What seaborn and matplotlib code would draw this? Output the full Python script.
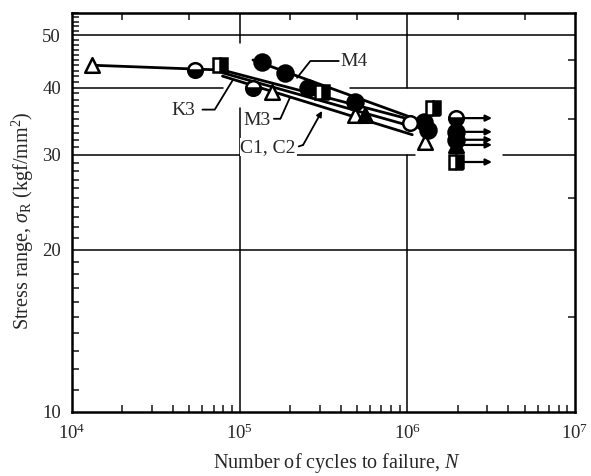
import numpy as np
import pandas as pd
import seaborn as sns
import matplotlib
matplotlib.use("Agg")
import matplotlib.pyplot as plt
from matplotlib.ticker import FixedLocator, NullFormatter, NullLocator

# ---- S-N test results (cycles to failure N, stress range in kgf/mm^2) ----
open_tri_N = [1.32e4, 1.56e5, 4.9e5, 1.28e6]
open_tri_S = [44.0, 39.3, 35.6, 31.7]

filled_tri_N = [5.6e5, 1.94e6]
filled_tri_S = [35.6, 31.3]

filled_circ_N = [1.36e5, 1.87e5, 2.57e5, 4.9e5, 1.25e6, 1.33e6, 1.94e6, 1.94e6]
filled_circ_S = [44.6, 42.6, 39.9, 37.6, 34.5, 33.4, 33.1, 32.0]

half_circ_N = [5.4e4, 1.2e5, 1.94e6]
half_circ_S = [43.1, 39.9, 35.1]

open_circ_N = [1.04e6]
open_circ_S = [34.4]

half_sq_N = [7.6e4, 3.1e5, 1.43e6, 1.94e6]
half_sq_S = [44.1, 39.3, 36.6, 29.1]

# run-outs (unbroken specimens)
runout_N_start = 2.05e6
runout_N_end = 3.2e6
runout_S = [35.1, 33.1, 32.0, 31.3, 29.1]

# ---- fitted S-N curves ----
k3_N = [1.32e4, 7.9e4, 1.2e6]
k3_S = [44.0, 43.1, 34.5]
m3_N = [7.9e4, 1.13e6]
m3_S = [42.6, 33.7]
c12_N = [7.9e4, 1.07e6]
c12_S = [42.0, 32.7]
m4_N = [1.2e5, 1.2e6]
m4_S = [45.0, 34.7]

x_tick_values = [1e4, 1e5, 1e6, 1e7]
x_tick_labels = [r"10$^4$", r"10$^5$", r"10$^6$", r"10$^7$"]
y_tick_values = [10, 20, 30, 40, 50]
y_tick_labels = ["10", "20", "30", "40", "50"]

sns.set_style("white")
plt.rcParams["font.family"] = ["Liberation Serif", "DejaVu Serif"]
plt.rcParams["mathtext.fontset"] = "custom"
plt.rcParams["mathtext.rm"] = "Liberation Serif"
plt.rcParams["mathtext.it"] = "Liberation Serif:italic"
plt.rcParams["mathtext.bf"] = "Liberation Serif:bold"

fig = plt.figure(figsize=(5.91, 4.76), dpi=100)
ax = fig.add_axes([72 / 591, 1 - 412 / 476, 503 / 591, 399 / 476])
ax.set_xscale("log")
ax.set_yscale("log")
ax.set_xlim(1e4, 1e7)
ax.set_ylim(10, 55)

# grid lines, interrupted where the labels and data band sit
gkw = dict(color="black", lw=1.1, zorder=1)
ax.axhline(50, 0, 1, **gkw)
ax.axhline(20, 0, 1, **gkw)
ax.axhline(40, 0, 0.30, **gkw)
ax.axhline(40, 0.553, 1, **gkw)
ax.axhline(30, 0, 0.334, **gkw)
ax.axhline(30, 0.447, 0.682, **gkw)
ax.axhline(30, 0.857, 1, **gkw)
ax.axvline(1e5, 0, 0.762, **gkw)
ax.axvline(1e5, 0.925, 1, **gkw)
ax.axvline(1e6, 0, 0.644, **gkw)
ax.axvline(1e6, 0.812, 1, **gkw)

# S-N curves
for n, s in [(k3_N, k3_S), (m3_N, m3_S), (c12_N, c12_S), (m4_N, m4_S)]:
    sns.lineplot(x=n, y=s, ax=ax, color="black", lw=2.0, sort=False,
                 estimator=None, zorder=3)

# run-out arrows
for s in runout_S:
    ax.annotate("", xy=(runout_N_end, s), xytext=(runout_N_start, s),
                arrowprops=dict(arrowstyle="-|>", color="black", lw=1.6,
                                mutation_scale=9, shrinkA=0, shrinkB=0),
                zorder=3)

ms = 10.5
mkw = dict(linestyle="none", markersize=ms, markeredgecolor="black",
           markeredgewidth=1.8, zorder=5)
sns.scatterplot(x=open_tri_N, y=open_tri_S, ax=ax, marker="^", s=ms**2,
                facecolor="white", edgecolor="black", linewidth=1.8, zorder=5)
sns.scatterplot(x=filled_tri_N, y=filled_tri_S, ax=ax, marker="^", s=ms**2,
                color="black", edgecolor="black", linewidth=1.8, zorder=5)
sns.scatterplot(x=filled_circ_N, y=filled_circ_S, ax=ax, marker="o", s=(ms + 1)**2,
                color="black", edgecolor="black", linewidth=1.8, zorder=5)
sns.scatterplot(x=open_circ_N, y=open_circ_S, ax=ax, marker="o", s=ms**2,
                facecolor="white", edgecolor="black", linewidth=1.8, zorder=5)
ax.plot(half_circ_N, half_circ_S, marker="o", fillstyle="bottom",
        markerfacecolor="black", markerfacecoloralt="white", **mkw)
ax.plot(half_sq_N, half_sq_S, marker="s", fillstyle="right",
        markerfacecolor="black", markerfacecoloralt="white", **mkw)

# curve labels with leader lines
lbl = dict(fontsize=14, ha="center", va="center", zorder=6,
           bbox=dict(facecolor="white", edgecolor="none", pad=0.5))
lkw = dict(color="black", lw=1.3, zorder=4)
ax.text(4.6e4, 36.3, "K3", **lbl)
ax.plot([6.0e4, 7.1e4, 9.1e4], [36.4, 36.4, 41.3], **lkw)
ax.text(1.27e5, 34.8, "M3", **lbl)
ax.plot([1.6e5, 1.75e5, 2.0e5], [35.0, 35.0, 38.4], **lkw)
ax.text(1.48e5, 31.0, "C1, C2", **lbl)
ax.annotate("", xy=(3.1e5, 36.2), xytext=(2.39e5, 31.3),
            arrowprops=dict(arrowstyle="-|>", color="black", lw=1.3,
                            mutation_scale=8, shrinkA=0, shrinkB=0), zorder=4)
ax.plot([2.25e5, 2.39e5], [31.1, 31.3], **lkw)
ax.text(4.0e5, 44.8, "M4", fontsize=14, ha="left", va="center", zorder=6)
ax.plot([3.9e5, 2.64e5, 2.2e5], [44.8, 44.8, 41.7], **lkw)

# axes, ticks and labels
for sp in ax.spines.values():
    sp.set_color("black")
    sp.set_linewidth(1.8)
ax.xaxis.set_major_locator(FixedLocator(x_tick_values))
ax.set_xticklabels(x_tick_labels)
ax.xaxis.set_minor_locator(FixedLocator(
    [m * 10**e for e in range(4, 7) for m in range(2, 10)]))
ax.xaxis.set_minor_formatter(NullFormatter())
ax.yaxis.set_major_locator(FixedLocator(y_tick_values))
ax.set_yticklabels(y_tick_labels)
ax.yaxis.set_minor_locator(FixedLocator(
    [v for v in range(11, 56) if v not in y_tick_values]))
ax.yaxis.set_minor_formatter(NullFormatter())
ax.tick_params(which="major", length=0, labelsize=13.5, pad=8)
ax.tick_params(which="minor", direction="in", length=5, width=1.2,
               bottom=True, left=True, top=False, right=False)

top = ax.secondary_xaxis("top")
top.xaxis.set_major_locator(FixedLocator(
    [m * 10**e for e in range(4, 7) for m in (2, 5)]))
top.xaxis.set_minor_locator(NullLocator())
top.tick_params(direction="in", length=5, width=1.2, labeltop=False)
right = ax.secondary_yaxis("right")
right.yaxis.set_major_locator(FixedLocator([15, 25, 35, 45]))
right.yaxis.set_minor_locator(NullLocator())
right.tick_params(direction="in", length=5, width=1.2, labelright=False)

ax.set_xlabel(r"Number of cycles to failure, $N$", fontsize=14.5)
ax.xaxis.set_label_coords(0.527, -0.098)
ax.set_ylabel(r"Stress range, $\sigma_{\rm R}$ (kgf/mm$^2$)", fontsize=14.5)
ax.yaxis.set_label_coords(-0.072, 0.48)

fig.savefig("out.png", dpi=100, facecolor="white")
